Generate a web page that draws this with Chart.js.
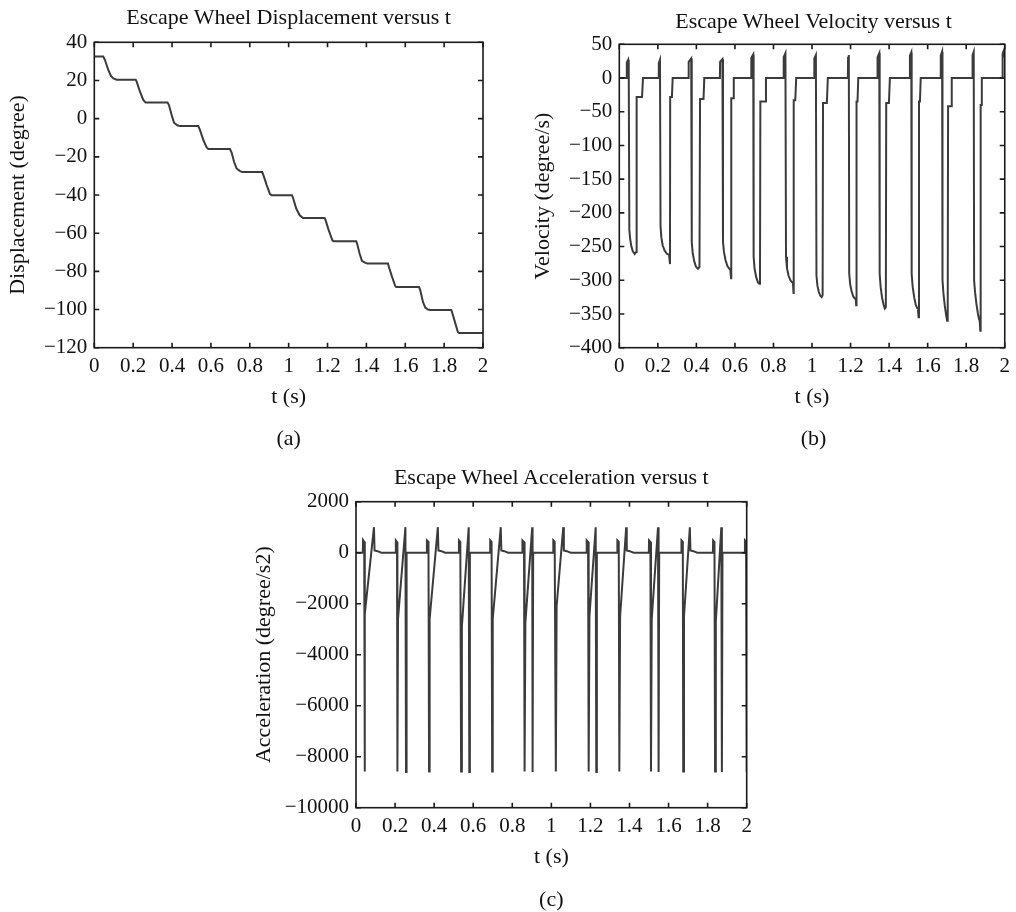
<!DOCTYPE html>
<html><head><meta charset="utf-8">
<script src="https://cdn.jsdelivr.net/npm/chart.js@4.4.1/dist/chart.umd.min.js"></script>
<style>
html,body{margin:0;padding:0;background:#fff;}
#wrap{position:relative;width:1016px;height:912px;overflow:hidden;font-family:"Liberation Serif","DejaVu Serif",serif;color:#111;}
canvas{position:absolute;left:0;top:0;}
.t{position:absolute;font-size:22px;line-height:26px;white-space:nowrap;transform:translateX(-50%);}
</style></head><body>
<div id="wrap">
<canvas id="ca" width="1016" height="912"></canvas>
<canvas id="cb" width="1016" height="912"></canvas>
<canvas id="cc" width="1016" height="912"></canvas>
<div class="t" style="left:288.6px;top:4px">Escape Wheel Displacement versus t</div>
<div class="t" style="left:813.5px;top:7.5px">Escape Wheel Velocity versus t</div>
<div class="t" style="left:551.3px;top:464px">Escape Wheel Acceleration versus t</div>
<div class="t" style="left:288.6px;top:424.6px">(a)</div>
<div class="t" style="left:813.5px;top:424.6px">(b)</div>
<div class="t" style="left:551.3px;top:886px">(c)</div>
</div>
<script>
// ---- data (t in s) ----
const dispT = [0,0.046,0.055,0.072,0.086,0.098,0.115,0.213,0.218,0.235,0.252,0.264,0.377,0.384,0.398,0.410,0.427,0.441,0.535,0.544,0.561,0.578,0.587,0.698,0.707,0.719,0.732,0.750,0.762,0.864,0.870,0.887,0.904,0.913,1.017,1.022,1.039,1.057,1.074,1.185,1.190,1.206,1.225,1.232,1.348,1.353,1.365,1.377,1.395,1.405,1.511,1.516,1.532,1.549,1.554,1.671,1.678,1.691,1.703,1.717,1.729,1.837,1.842,1.858,1.871,1.877,2.0];
const dispV = [32.5,32.5,30.7,25.5,22.3,21.1,20.4,20.4,19.4,14.1,9.8,8.4,8.4,7.1,1.9,-2.1,-3.5,-3.9,-3.9,-6.0,-11.2,-15.1,-15.9,-15.9,-17.9,-22.6,-26.1,-27.5,-28.0,-28.0,-29.6,-34.8,-39.5,-40.1,-40.1,-41.3,-47.1,-50.6,-52.0,-52.0,-53.2,-58.4,-63.7,-64.2,-64.2,-65.8,-70.7,-74.5,-75.6,-75.9,-75.9,-77.7,-82.9,-87.8,-88.2,-88.2,-90.2,-96.0,-99.0,-100.0,-100.2,-100.2,-101.8,-107.4,-111.9,-112.3,-112.3];

const velT = [0,0.038,0.039,0.046,0.049,0.052,0.056,0.062,0.070,0.080,0.087,0.090,0.118,0.123,
  0.204,0.205,0.211,0.214,0.218,0.225,0.235,0.248,0.258,0.263,0.264,0.273,0.277,
  0.359,0.360,0.373,0.376,0.381,0.389,0.398,0.408,0.416,0.419,0.437,0.441,
  0.522,0.523,0.535,0.538,0.543,0.551,0.561,0.571,0.576,0.580,0.581,0.590,0.594,
  0.684,0.685,0.695,0.697,0.702,0.710,0.719,0.726,0.730,0.732,0.757,0.761,
  0.852,0.853,0.862,0.865,0.870,0.878,0.888,0.897,0.901,0.904,0.905,0.913,0.918,
  1.011,1.012,1.020,1.023,1.028,1.035,1.043,1.050,1.055,1.057,1.077,1.082,
  1.186,1.187,1.191,1.193,1.198,1.205,1.214,1.222,1.227,1.229,1.231,1.236,1.240,
  1.339,1.340,1.349,1.351,1.356,1.363,1.371,1.378,1.383,1.385,1.399,1.404,
  1.507,1.508,1.515,1.517,1.522,1.530,1.538,1.545,1.549,1.553,1.555,1.560,1.564,
  1.667,1.668,1.675,1.677,1.682,1.689,1.696,1.701,1.704,1.706,1.722,1.725,
  1.832,1.833,1.839,1.841,1.846,1.853,1.861,1.867,1.870,1.873,1.875,1.878,1.881,
  1.988,1.989,1.997,2.0];
const velV = [0,0,23,27,12,-225,-238,-249,-257,-261,-258,-28,-28,0,
  0,22,27,-220,-236,-248,-256,-261,-262,-276,-28,-28,0,
  0,24,29,-243,-260,-272,-280,-283,-280,-31,-31,0,
  0,24,28,-243,-258,-270,-279,-283,-284,-297,-30,-30,0,
  0,30,35,-265,-283,-295,-303,-305,-302,-35,-35,0,
  0,31,37,-265,-282,-293,-300,-303,-304,-319,-33,-33,0,
  0,29,34,-293,-308,-317,-323,-325,-322,-37,-37,0,
  0,30,34,-290,-306,-316,-324,-327,-327,-337,-35,-35,0,
  0,31,37,-290,-310,-325,-336,-342,-340,-37,-37,0,
  0,33,38,-290,-309,-325,-336,-341,-342,-355,-35,-35,0,
  0,33,39,-300,-320,-338,-352,-360,-357,-42,-42,0,
  0,34,39,-300,-318,-335,-350,-358,-360,-375,-40,-40,0,
  0,36,42,30];

const accT = [0,0.035,0.036,0.042,0.044,0.046,0.092,0.095,0.110,0.130,
  0.203,0.204,0.210,0.212,0.215,0.253,0.256,0.259,
  0.362,0.363,0.371,0.374,0.377,0.419,0.422,0.437,0.457,
  0.526,0.527,0.534,0.538,0.542,0.577,0.580,0.583,
  0.686,0.687,0.694,0.697,0.700,0.741,0.744,0.759,0.779,
  0.851,0.852,0.860,0.863,0.867,0.902,0.904,0.907,
  1.009,1.010,1.017,1.023,1.027,1.061,1.064,1.079,1.099,
  1.180,1.181,1.188,1.191,1.195,1.227,1.230,1.233,
  1.337,1.338,1.345,1.348,1.352,1.383,1.386,1.401,1.421,
  1.499,1.500,1.507,1.510,1.514,1.546,1.549,1.552,
  1.665,1.666,1.673,1.675,1.679,1.709,1.712,1.727,1.747,
  1.827,1.828,1.835,1.838,1.842,1.870,1.873,1.876,
  1.990,1.991,1.997,2.0];
const accV = [0,0,500,430,-8580,-2400,1000,90,60,0,
  0,480,420,-8580,-2600,1000,-8600,0,
  0,480,420,-8580,-2600,1000,90,60,0,
  0,480,420,-8580,-2900,1000,-8600,0,
  0,480,420,-8580,-2600,1000,90,60,0,
  0,480,420,-8580,-2750,1000,-8600,0,
  0,480,420,-8580,-2100,1000,90,60,0,
  0,480,420,-8580,-2500,1000,-8600,0,
  0,480,420,-8580,-2500,1000,90,60,0,
  0,480,420,-8580,-2600,1000,-8600,0,
  0,480,420,-8580,-2500,1000,90,60,0,
  0,480,420,-8580,-2700,1000,-8600,0,
  0,480,420,-8600];

// ---- tick values ----
const tTicks = [0,0.2,0.4,0.6,0.8,1,1.2,1.4,1.6,1.8,2];
const dispTicks = [-120,-100,-80,-60,-40,-20,0,20,40];
const velTicks = [-400,-350,-300,-250,-200,-150,-100,-50,0,50];
const accTicks = [-10000,-8000,-6000,-4000,-2000,0,2000];

const FONT = '"Liberation Serif","DejaVu Serif",serif';
Chart.defaults.font.family = FONT;
Chart.defaults.color = '#111';

function fmt(v){ return String(Math.round(v*1000)/1000).replace('-', '\u2212'); }

const boxPlugin = {
  id: 'box',
  afterDraw(chart){
    const {ctx, chartArea:a, scales:{x,y}} = chart;
    ctx.save();
    ctx.strokeStyle = '#1a1a1a';
    ctx.lineWidth = 1.6;
    ctx.beginPath();
    x.ticks.forEach(t => {
      const p = x.getPixelForValue(t.value);
      ctx.moveTo(p, a.bottom); ctx.lineTo(p, a.bottom - 5);
      ctx.moveTo(p, a.top); ctx.lineTo(p, a.top + 5);
    });
    y.ticks.forEach(t => {
      const p = y.getPixelForValue(t.value);
      ctx.moveTo(a.left, p); ctx.lineTo(a.left + 5, p);
      ctx.moveTo(a.right, p); ctx.lineTo(a.right - 5, p);
    });
    ctx.stroke();
    ctx.strokeRect(a.left, a.top, a.right - a.left, a.bottom - a.top);
    ctx.restore();
  }
};

function makeChart(id, xs, ys, yTicks, yTitle, pad, yW, yTitlePad){
  const pts = xs.map((t,i) => ({x:t, y:ys[i]}));
  return new Chart(document.getElementById(id), {
    type: 'line',
    data: { datasets: [{ data: pts, borderColor: '#3b3b3b', borderWidth: 2, pointRadius: 0, tension: 0, fill: false }] },
    options: {
      responsive: false, animation: false, events: [],
      layout: { padding: pad },
      plugins: { legend: {display:false}, tooltip: {enabled:false}, title: {display:false} },
      scales: {
        x: {
          type: 'linear', min: tTicks[0], max: tTicks[tTicks.length-1],
          grid: {display:false, drawTicks:false}, border: {display:false},
          afterBuildTicks: s => { s.ticks = tTicks.map(v => ({value:v})); },
          afterFit: s => { s.height = 70; },
          ticks: { font: {size:21}, padding: 6, maxRotation: 0, autoSkip: false, callback: v => fmt(v) },
          title: { display: true, text: 't (s)', font: {size:22}, padding: {top:0, bottom:7.3} }
        },
        y: {
          type: 'linear', min: yTicks[0], max: yTicks[yTicks.length-1],
          grid: {display:false, drawTicks:false}, border: {display:false},
          afterBuildTicks: s => { s.ticks = yTicks.map(v => ({value:v})); },
          afterFit: s => { s.width = yW; },
          ticks: { font: {size:21}, padding: 7, autoSkip: false, callback: v => fmt(v) },
          title: { display: true, text: yTitle, font: {size:22}, padding: {top:yTitlePad, bottom:0} }
        }
      }
    },
    plugins: [boxPlugin]
  });
}

makeChart('ca', dispT, dispV, dispTicks, 'Displacement (degree)',
  {left:0, top:42.3, right:533, bottom:494.3}, 94.3, 4.8);
makeChart('cb', velT, velV, velTicks, 'Velocity (degree/s)',
  {left:525, top:44.3, right:8.3, bottom:494.3}, 94.3, 5.3);
makeChart('cc', accT, accV, accTicks, 'Acceleration (degree/s2)',
  {left:240, top:501.7, right:269.3, bottom:34.3}, 116, 10.8);
</script>
</body></html>
